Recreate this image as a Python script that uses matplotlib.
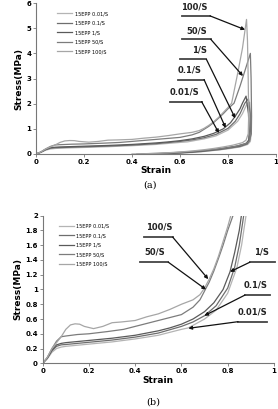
import matplotlib
matplotlib.use("Agg")
import matplotlib.pyplot as plt
from matplotlib.ticker import FormatStrFormatter, FuncFormatter

# --- data ---
rates = ["0.01/S", "0.1/S", "1/S", "50/S", "100/S"]
legend_labels = ["15EPP 0.01/S", "15EPP 0.1/S", "15EPP 1/S", "15EPP 50/S", "15EPP 100/S"]
colors = ["#b4b4b4", "#6e6e6e", "#5a5a5a", "#7c7c7c", "#a6a6a6"]

# loading curves (strain, stress)
load_strain = {
    "100/S": [0, 0.02, 0.04, 0.06, 0.08, 0.1, 0.12, 0.14, 0.16, 0.18, 0.22, 0.26, 0.3, 0.34, 0.4,
              0.45, 0.5, 0.55, 0.6, 0.65, 0.68, 0.7, 0.72, 0.74, 0.76, 0.78, 0.8, 0.815],
    "50/S": [0, 0.02, 0.04, 0.06, 0.08, 0.1, 0.15, 0.2, 0.28, 0.35, 0.4, 0.45, 0.5, 0.55, 0.6,
             0.65, 0.68, 0.7, 0.72, 0.74, 0.76, 0.78, 0.8, 0.825],
    "1/S": [0, 0.02, 0.04, 0.06, 0.08, 0.1, 0.2, 0.3, 0.4, 0.5, 0.55, 0.6, 0.65, 0.7, 0.74,
            0.78, 0.81, 0.83, 0.85, 0.86],
    "0.1/S": [0, 0.02, 0.04, 0.06, 0.08, 0.1, 0.2, 0.3, 0.4, 0.5, 0.6, 0.65, 0.7, 0.75, 0.8,
              0.83, 0.85, 0.87],
    "0.01/S": [0, 0.02, 0.04, 0.06, 0.08, 0.1, 0.2, 0.3, 0.4, 0.5, 0.6, 0.63, 0.7, 0.75, 0.8,
               0.84, 0.86, 0.88],
}
load_stress = {
    "100/S": [0, 0.08, 0.2, 0.28, 0.36, 0.46, 0.52, 0.535, 0.53, 0.5, 0.47, 0.5, 0.55, 0.56, 0.58,
              0.63, 0.67, 0.73, 0.8, 0.86, 0.93, 1.02, 1.14, 1.28, 1.45, 1.65, 1.85, 2.02],
    "50/S": [0, 0.08, 0.2, 0.3, 0.36, 0.37, 0.39, 0.4, 0.43, 0.46, 0.5, 0.54, 0.58, 0.62, 0.66,
             0.76, 0.86, 0.98, 1.1, 1.25, 1.42, 1.6, 1.8, 2.02],
    "1/S": [0, 0.07, 0.18, 0.25, 0.27, 0.28, 0.31, 0.34, 0.38, 0.44, 0.48, 0.53, 0.6, 0.7, 0.82,
            1.0, 1.24, 1.5, 1.8, 2.02],
    "0.1/S": [0, 0.07, 0.17, 0.23, 0.25, 0.255, 0.285, 0.315, 0.355, 0.41, 0.5, 0.56, 0.645, 0.78,
              1.02, 1.3, 1.6, 2.02],
    "0.01/S": [0, 0.06, 0.15, 0.2, 0.22, 0.23, 0.26, 0.29, 0.33, 0.38, 0.46, 0.48, 0.6, 0.72,
               0.95, 1.3, 1.6, 2.02],
}

# panel (a): continuation to the peak and unloading path
peak_strain = {"100/S": [0.84, 0.86, 0.877], "50/S": [0.85, 0.87, 0.893], "1/S": [0.875],
               "0.1/S": [0.885], "0.01/S": [0.89]}
peak_stress = {"100/S": [3.2, 4.2, 5.35], "50/S": [2.7, 3.3, 4.0], "1/S": [2.3],
               "0.1/S": [2.2], "0.01/S": [2.05]}
unload_strain = {
    "100/S": [0.881, 0.884, 0.886, 0.884, 0.875, 0.86, 0.82, 0.78, 0.74, 0.7, 0.65, 0.6, 0.55, 0.5, 0.45, 0.4],
    "50/S": [0.896, 0.898, 0.897, 0.888, 0.87, 0.83, 0.79, 0.75, 0.7, 0.65, 0.6, 0.55, 0.5, 0.45, 0.42],
    "1/S": [0.885, 0.888, 0.886, 0.875, 0.84, 0.8, 0.76, 0.72, 0.68, 0.64, 0.6, 0.55, 0.5, 0.46],
    "0.1/S": [0.892, 0.893, 0.89, 0.88, 0.85, 0.81, 0.77, 0.73, 0.69, 0.65, 0.6, 0.55, 0.5, 0.45],
    "0.01/S": [0.895, 0.896, 0.893, 0.882, 0.85, 0.81, 0.77, 0.73, 0.69, 0.65, 0.6, 0.55, 0.5, 0.44],
}
unload_stress = {
    "100/S": [4.5, 3.0, 1.5, 0.8, 0.55, 0.45, 0.35, 0.28, 0.22, 0.17, 0.12, 0.08, 0.05, 0.03, 0.01, 0.0],
    "50/S": [3.0, 1.5, 0.8, 0.5, 0.4, 0.3, 0.24, 0.19, 0.14, 0.1, 0.07, 0.04, 0.02, 0.01, 0.0],
    "1/S": [1.6, 0.9, 0.55, 0.42, 0.32, 0.26, 0.2, 0.15, 0.11, 0.08, 0.05, 0.03, 0.01, 0.0],
    "0.1/S": [1.6, 0.9, 0.55, 0.4, 0.3, 0.24, 0.18, 0.14, 0.1, 0.07, 0.04, 0.02, 0.01, 0.0],
    "0.01/S": [1.4, 0.8, 0.5, 0.38, 0.28, 0.22, 0.17, 0.13, 0.09, 0.06, 0.04, 0.02, 0.01, 0.0],
}

# annotations: label, text pos, underline x-range, underline y, arrow target
ann_a = [
    ("100/S", (0.66, 5.68), (0.61, 0.725), 5.49, (0.871, 4.94)),
    ("50/S", (0.67, 4.72), (0.607, 0.728), 4.56, (0.862, 3.1)),
    ("1/S", (0.68, 3.97), (0.60, 0.71), 3.76, (0.83, 1.42)),
    ("0.1/S", (0.64, 3.17), (0.59, 0.70), 2.96, (0.79, 1.04)),
    ("0.01/S", (0.62, 2.27), (0.558, 0.69), 2.08, (0.762, 0.83)),
]
ann_b = [
    ("100/S", (0.504, 1.78), (0.44, 0.562), 1.71, (0.716, 1.14), "right"),
    ("50/S", (0.486, 1.45), (0.42, 0.543), 1.37, (0.706, 1.0), "right"),
    ("1/S", (0.947, 1.445), (0.896, 1.004), 1.37, (0.81, 1.24), "left"),
    ("0.1/S", (0.922, 1.0), (0.875, 0.983), 0.925, (0.699, 0.645), "left"),
    ("0.01/S", (0.908, 0.63), (0.845, 0.968), 0.564, (0.63, 0.474), "left"),
]

fig = plt.figure(figsize=(2.78, 4.09), dpi=100)
ax_a = fig.add_axes([0.1295, 0.6235, 0.8635, 0.369])
ax_b = fig.add_axes([0.1535, 0.1117, 0.832, 0.361])


def style(ax):
    for s in ["top", "right"]:
        ax.spines[s].set_visible(False)
    for s in ["left", "bottom"]:
        ax.spines[s].set_color("#777777")
        ax.spines[s].set_linewidth(0.8)
    ax.tick_params(length=2, width=0.6, color="#777777", labelsize=5, pad=1.5)
    for lab in ax.get_xticklabels() + ax.get_yticklabels():
        lab.set_fontweight("bold")
    ax.xaxis.set_major_formatter(FuncFormatter(lambda v, p: "%g" % round(v, 2)))
    ax.yaxis.set_major_formatter(FuncFormatter(lambda v, p: "%g" % round(v, 2)))
    ax.set_xlabel("Strain", fontsize=6.5, fontweight="bold", labelpad=1)
    ax.set_ylabel("Stress(MPa)", fontsize=6.5, fontweight="bold", labelpad=2)


# panel (a)
for r, c, lab in zip(rates, colors, legend_labels):
    xs = load_strain[r] + peak_strain[r] + unload_strain[r]
    ys = load_stress[r] + peak_stress[r] + unload_stress[r]
    ax_a.plot(xs, ys, color=c, lw=0.9, label=lab)
ax_a.set_xlim(0, 1)
ax_a.set_ylim(0, 6)
ax_a.set_xticks([0, 0.2, 0.4, 0.6, 0.8, 1])
ax_a.set_yticks(range(7))
style(ax_a)
for txt, tpos, (x0, x1), yl, tgt in ann_a:
    ax_a.text(tpos[0], tpos[1], txt, fontsize=6, fontweight="bold", ha="center", va="bottom",
              color="#222222")
    ax_a.plot([x0, x1], [yl, yl], color="#444444", lw=1.3)
    ax_a.annotate("", xy=tgt, xytext=(x1, yl),
                  arrowprops=dict(arrowstyle="-|>", color="#111111", lw=0.9, mutation_scale=5,
                                  shrinkA=0, shrinkB=0))
ax_a.legend(loc="upper left", bbox_to_anchor=(0.08, 0.96), frameon=False, fontsize=3.6,
            handlelength=3, labelspacing=0.9, handletextpad=0.5, borderaxespad=0)
fig.text(0.5 * (0.1295 + 0.993) - 0.02, 0.548, "(a)", fontsize=7, family="DejaVu Serif",
         ha="center", va="center")

# panel (b)
for r, c, lab in zip(rates, colors, legend_labels):
    ax_b.plot(load_strain[r], load_stress[r], color=c, lw=0.9, label=lab)
ax_b.set_xlim(0, 1)
ax_b.set_ylim(0, 2)
ax_b.set_xticks([0, 0.2, 0.4, 0.6, 0.8, 1])
ax_b.set_yticks([0, 0.2, 0.4, 0.6, 0.8, 1, 1.2, 1.4, 1.6, 1.8, 2])
style(ax_b)
for txt, tpos, (x0, x1), yl, tgt, side in ann_b:
    ax_b.text(tpos[0], tpos[1], txt, fontsize=6, fontweight="bold", ha="center", va="bottom",
              color="#222222")
    ax_b.plot([x0, x1], [yl, yl], color="#444444", lw=1.3, clip_on=False)
    start = (x1, yl) if side == "right" else (x0, yl)
    ax_b.annotate("", xy=tgt, xytext=start,
                  arrowprops=dict(arrowstyle="-|>", color="#111111", lw=0.9, mutation_scale=5,
                                  shrinkA=0, shrinkB=0))
ax_b.legend(loc="upper left", bbox_to_anchor=(0.06, 0.96), frameon=False, fontsize=3.6,
            handlelength=3, labelspacing=0.9, handletextpad=0.5, borderaxespad=0)
fig.text(0.5 * (0.1535 + 0.9856) - 0.02, 0.018, "(b)", fontsize=7, family="DejaVu Serif",
         ha="center", va="center")

fig.savefig("out.png", dpi=100)
